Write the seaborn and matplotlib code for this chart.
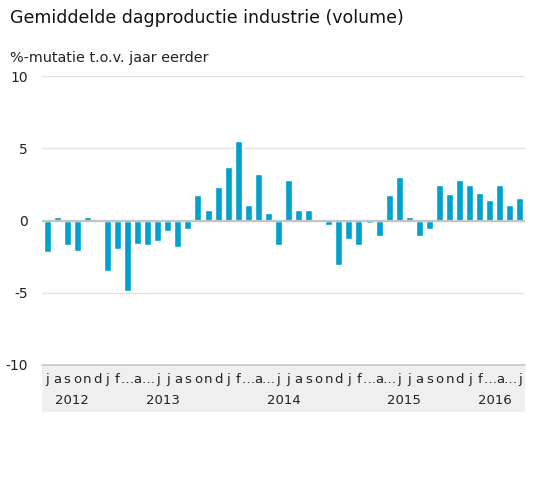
import matplotlib
matplotlib.use("Agg")
import matplotlib.pyplot as plt
import seaborn as sns
import pandas as pd
import numpy as np
from matplotlib.patches import Rectangle

# ---- data ----
years = [2012]*6 + [2013]*12 + [2014]*12 + [2015]*12 + [2016]*6
months = list(range(7, 13)) + list(range(1, 13))*3 + list(range(1, 7))
month_letters = {1: "j", 2: "f", 3: "…", 4: "a", 5: "…", 6: "j",
                 7: "j", 8: "a", 9: "s", 10: "o", 11: "n", 12: "d"}
values = [-2.2, 0.25, -1.7, -2.1, 0.25, 0.0,
          -3.5, -2.0, -4.9, -1.65, -1.7, -1.45, -0.75, -1.85, -0.6, 1.75, 0.7, 2.3,
          3.7, 5.5, 1.1, 3.2, 0.5, -1.7, 2.8, 0.7, 0.7, 0.0, -0.3, -3.1,
          -1.3, -1.7, -0.15, -1.1, 1.75, 3.0, 0.25, -1.1, -0.6, 2.45, 1.8, 2.8,
          2.45, 1.9, 1.4, 2.45, 1.1, 1.55]
yticks = [-10, -5, 0, 5, 10]
title = "Gemiddelde dagproductie industrie (volume)"
subtitle = "%-mutatie t.o.v. jaar eerder"

df = pd.DataFrame({"period": [f"{y}-{m:02d}" for y, m in zip(years, months)],
                   "year": years, "month": months, "value": values})

sns.set_theme(style="white")
plt.rcParams["font.family"] = ["DejaVu Sans"]
plt.rcParams["axes.unicode_minus"] = False

W, H = 535, 500
fig = plt.figure(figsize=(W/100, H/100), dpi=100)
left, right, top, bottom = 42, 525, 76, 365
ax = fig.add_axes([left/W, 1 - bottom/H, (right-left)/W, (bottom-top)/H])

sns.barplot(data=df, x="period", y="value", color="#00a1cd", saturation=1,
            width=0.7, ax=ax, zorder=3)
ax.set_xlim(-0.5, len(df) - 0.5)
ax.set_ylim(-10, 10)
ax.set_yticks(yticks)
ax.set_yticklabels([str(t) for t in yticks])
ax.grid(axis="y", color="#e2e2e2", linewidth=1, zorder=0)
ax.axhline(0, color="#c4c4c4", linewidth=1.6, zorder=4)
ax.axhline(-10, color="#c8c8c8", linewidth=1.2, zorder=4, clip_on=False)
for s in ax.spines.values():
    s.set_visible(False)
ax.set_xlabel("")
ax.set_ylabel("")
ax.tick_params(axis="y", length=0, pad=10, labelsize=10, labelcolor="#222222")
ax.set_xticks(range(len(df)))
ax.set_xticklabels([month_letters[m] for m in df["month"]])
ax.tick_params(axis="x", length=0, pad=6, labelsize=9.5, labelcolor="#222222")

# year labels
for y, grp in df.groupby("year"):
    xc = np.mean(grp.index.values)
    ax.annotate(str(y), xy=(xc, 0), xycoords=("data", "axes fraction"),
                xytext=(0, -35), textcoords="offset pixels",
                ha="center", va="center", fontsize=9.5, color="#222222")

# grey band behind the x labels
fig.add_artist(Rectangle((left/W, 1 - 412/H), (right-left)/W, (412-365)/H,
                         transform=fig.transFigure, facecolor="#efefef",
                         edgecolor="none", zorder=-1))

fig.text(10/W, 1 - 23/H, title, fontsize=12.5, color="#111111", va="baseline",
         ha="left", fontweight="normal")
fig.text(10/W, 1 - 62/H, subtitle, fontsize=10.4, color="#222222", va="baseline",
         ha="left")

fig.savefig("out.png", dpi=100)
